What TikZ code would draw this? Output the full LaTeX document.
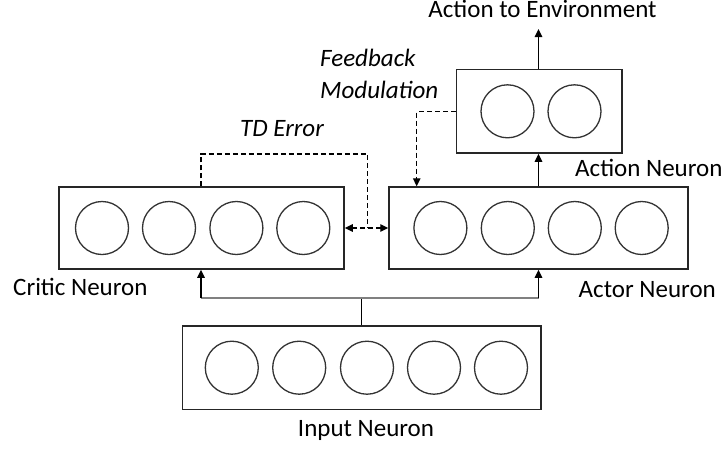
\documentclass[tikz,border=0pt]{standalone}
\usepackage{fontspec}
\setmainfont{Carlito}
\usetikzlibrary{arrows.meta}
\begin{document}
\begin{tikzpicture}[x=1pt,y=-1pt,
  layerbox/.style={draw=black!85,line width=1.5pt,inner sep=0pt,minimum height=83pt},
  neuron/.style={draw=black!80,line width=1.3pt,circle,minimum size=53pt,inner sep=0pt},
  tip/.style={-{Triangle[length=8pt,width=7.5pt]}},
  conn/.style={line width=1.3pt,tip},
  dconn/.style={line width=1.3pt,dash pattern=on 5pt off 3pt},
  lbl/.style={font=\fontsize{25}{30}\selectfont,inner sep=0pt},
  ilbl/.style={font=\fontsize{25}{30}\selectfont\itshape,inner sep=0pt}]
\useasboundingbox (0,0) rectangle (724,448);
% boxes
\node[layerbox,minimum width=285pt,minimum height=82pt] (critic) at (201.5,228) {};
\node[layerbox,minimum width=299pt,minimum height=82pt] (actor) at (538.5,228) {};
\node[layerbox,minimum width=165.5pt,minimum height=83.5pt] (action) at (539.3,111.3) {};
\node[layerbox,minimum width=358.6pt,minimum height=83.3pt] (input) at (361.7,367.7) {};
% neurons
\foreach \x [count=\i] in {102,169,236.4,303.3} \node[neuron] (c\i) at (\x,228) {};
\foreach \x [count=\i] in {440.4,507.8,574.8,641.7} \node[neuron] (a\i) at (\x,228) {};
\foreach \x [count=\i] in {507.5,574.5} \node[neuron] (o\i) at (\x,111.3) {};
\foreach \x [count=\i] in {231.8,299.2,367,434,501} \node[neuron] (n\i) at (\x,367.7) {};
% labels
\node[lbl,anchor=base] (envlbl) at (542.5,17.3) {Action to Environment};
\node[lbl,anchor=base west] (actionlbl) at (575,176) {Action Neuron};
\node[lbl,anchor=base west] (criticlbl) at (13,295.7) {Critic Neuron};
\node[lbl,anchor=base west] (actorlbl) at (578.5,297.7) {Actor Neuron};
\node[lbl,anchor=base] (inputlbl) at (366,436.7) {Input Neuron};
\node[ilbl,anchor=base] (tdlbl) at (282,136) {TD Error};
\node[ilbl,anchor=base west] (fb1) at (320,66.7) {Feedback};
\node[ilbl,anchor=base west] (fb2) at (320,98.3) {Modulation};
% coordinates
\coordinate (env) at (538.5,29);
\coordinate (split) at (361.6,297.7);
\coordinate (jl) at (201,297.7);
\coordinate (jr) at (538.5,297.7);
\coordinate (td1) at (201,154);
\coordinate (td2) at (367.3,154);
\coordinate (td3) at (367.3,228);
\coordinate (fbA) at (416.7,111.7);
% solid connectors
\draw[conn] (action.north -| env) -- (env);
\draw[conn] (actor.north -| env) -- (action.south -| env);
\draw[line width=1.3pt] (input.north -| split) -- (split);
\draw[gray,line width=2.2pt] (jl) -- (jr);
\draw[conn] (jl) -- (critic.south -| jl);
\draw[conn] (jr) -- (actor.south -| jr);
% dashed connectors
\draw[dconn] (critic.north -| td1) -- (td1) -- (td2) -- (td3);
\draw[dconn,{Triangle[length=8pt,width=7.5pt]}-{Triangle[length=8pt,width=7.5pt]}] (critic.east |- td3) -- (actor.west |- td3);
\draw[dconn,tip] (action.west |- fbA) -- (fbA) -- (actor.north -| fbA);
\end{tikzpicture}
\end{document}
